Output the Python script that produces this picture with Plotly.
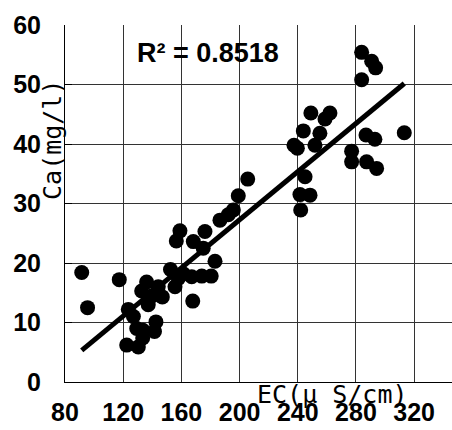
import numpy as np
import plotly.graph_objects as go

# Data (EC vs Ca)
ec = [91.5, 95.5, 117.3, 123.5, 127.0, 122.4, 130.4, 129.3, 133.6, 133.4,
      141.5, 142.5, 136.1, 132.7, 137.2, 140.7, 144.1, 146.9, 152.5, 155.6,
      157.9, 161.3, 159.0, 156.5, 167.1, 167.8, 168.2, 175.0, 176.2, 174.0,
      180.5, 183.1, 186.5, 192.2, 195.7, 199.1, 205.6,
      237.4, 239.7, 243.8, 249.0, 258.7, 262.1, 255.2, 251.8, 245.0, 241.5,
      248.4, 242.0, 277.0, 277.0, 283.9, 290.8, 293.5, 283.9, 313.2, 286.9,
      293.0, 287.3, 294.2]
ca = [18.4, 12.5, 17.2, 12.2, 11.0, 6.2, 5.9, 9.0, 8.7, 7.4,
      8.5, 10.1, 16.8, 15.3, 13.0, 14.6, 16.0, 14.3, 18.9, 16.0,
      17.4, 18.2, 25.4, 23.7, 17.7, 13.6, 23.6, 22.5, 25.3, 17.8,
      17.8, 20.3, 27.2, 28.1, 28.9, 31.3, 34.1,
      39.8, 39.3, 42.2, 45.2, 44.2, 45.2, 41.8, 39.8, 34.5, 31.5,
      31.4, 28.9, 38.8, 37.0, 55.4, 53.9, 52.8, 50.8, 41.9, 41.5,
      40.8, 37.0, 35.9]

x_ticks = [80, 120, 160, 200, 240, 280, 320]
y_ticks = [0, 10, 20, 30, 40, 50, 60]
r2_label = "R² = 0.8518"

slope, intercept = np.polyfit(ec, ca, 1)
fit_x = [min(ec), max(ec)]
fit_y = [slope * v + intercept for v in fit_x]

fig = go.Figure()
fig.add_trace(go.Scatter(x=ec, y=ca, mode="markers",
                         marker=dict(size=15, color="black", line=dict(width=0)),
                         showlegend=False, cliponaxis=False))
fig.add_trace(go.Scatter(x=fit_x, y=fit_y, mode="lines",
                         line=dict(color="black", width=5), showlegend=False))

tick_font = dict(family="Liberation Sans, Arial, sans-serif", size=25, color="black", weight="bold")

fig.update_layout(
    width=452, height=430,
    margin=dict(l=65, r=0, t=25, b=48),
    paper_bgcolor="white", plot_bgcolor="white",
    xaxis=dict(range=[80, 346], tickvals=x_ticks, ticktext=[str(v) for v in x_ticks],
               showgrid=False, zeroline=False, showline=True, linecolor="black", linewidth=1,
               ticks="", tickfont=tick_font, ticklabelstandoff=8,
               minor=dict(tickvals=x_ticks[1:], showgrid=True, gridcolor="#333", gridwidth=1)),
    yaxis=dict(range=[0, 60], tickvals=y_ticks, ticktext=[str(v) for v in y_ticks],
               showgrid=False, zeroline=False, showline=True, linecolor="black", linewidth=1,
               ticks="inside", ticklen=7, tickcolor="black", tickfont=tick_font,
               ticklabelstandoff=18,
               minor=dict(tickvals=y_ticks[1:-1], showgrid=True, gridcolor="#333", gridwidth=1)),
    annotations=[
        dict(text=r2_label, xref="paper", yref="paper", x=0.3695, y=0.9216,
             xanchor="center", yanchor="middle", showarrow=False,
             font=dict(family="Liberation Sans, Arial, sans-serif", size=27, color="black", weight="bold")),
        dict(text="EC(μ S/cm)", xref="paper", yref="paper", x=0.690, y=-0.034,
             xanchor="center", yanchor="middle", showarrow=False,
             font=dict(family="DejaVu Sans Mono, monospace", size=25, color="black")),
        dict(text="Ca(mg/l)", xref="paper", yref="paper", x=-0.031, y=0.678,
             xanchor="center", yanchor="middle", showarrow=False, textangle=-90,
             font=dict(family="DejaVu Sans Mono, monospace", size=25, color="black")),
    ],
)

fig.write_html("out.html")
